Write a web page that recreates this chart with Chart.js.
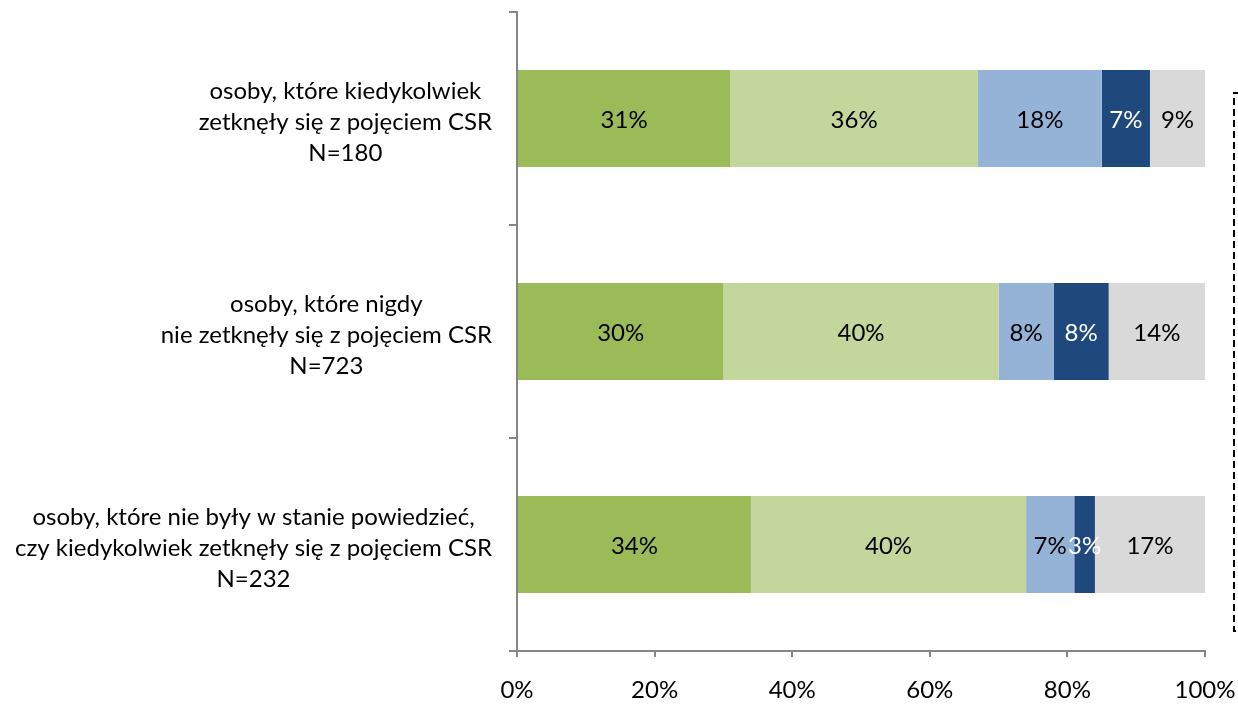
<!DOCTYPE html>
<html lang="pl">
<head>
<meta charset="utf-8">
<script src="https://cdn.jsdelivr.net/npm/chart.js@4/dist/chart.umd.min.js"></script>
<style>
  html, body { margin: 0; padding: 0; background: #fff; }
  #wrap { width: 1238px; height: 704px; position: relative; }
</style>
</head>
<body>
<div id="wrap"><canvas id="csrChart"></canvas></div>
<script>
// kategorie (etykiety osi Y, wiele linii)
const categories = [
    ['osoby, które kiedykolwiek', 'zetknęły się z pojęciem CSR', 'N=180'],
    ['osoby, które nigdy', 'nie zetknęły się z pojęciem CSR', 'N=723'],
    ['osoby, które nie były w stanie powiedzieć,', 'czy kiedykolwiek zetknęły się z pojęciem CSR', 'N=232']
];

// wartości serii (%)
const series1 = [31, 30, 34];
const series2 = [36, 40, 40];
const series3 = [18, 8, 7];
const series4 = [7, 8, 3];
const series5 = [9, 14, 17];

// podziałka osi X
const xTicks = [0, 20, 40, 60, 80, 100];

const colors = ['#9BBB59', '#C3D69B', '#95B3D7', '#1F497D', '#D9D9D9'];
const labelColors = ['#000', '#000', '#000', '#fff', '#000'];
const FONT = 'Lato, "Open Sans", sans-serif';
const FONT_SIZE = 24;
const AXIS = '#868686';

// etykiety kategorii: blok wyrównany do prawej, linie wyśrodkowane w bloku
const categoryLabels = {
    id: 'categoryLabels',
    afterDraw(chart) {
        const ctx = chart.ctx;
        const y = chart.scales.y;
        ctx.save();
        ctx.font = FONT_SIZE + 'px ' + FONT;
        ctx.fillStyle = '#000';
        ctx.textAlign = 'center';
        ctx.textBaseline = 'middle';
        const right = 492;
        const lh = 31;
        categories.forEach((lines, i) => {
            const cy = y.getPixelForValue(i) + 4;
            const w = Math.max(...lines.map(l => ctx.measureText(l).width));
            const cx = right - w / 2;
            lines.forEach((l, j) => {
                ctx.fillText(l, cx, cy + (j - (lines.length - 1) / 2) * lh);
            });
        });
        ctx.restore();
    }
};

// wartości procentowe na segmentach
const segmentLabels = {
    id: 'segmentLabels',
    afterDatasetsDraw(chart) {
        const ctx = chart.ctx;
        const area = chart.chartArea;
        ctx.save();
        ctx.font = FONT_SIZE + 'px ' + FONT;
        ctx.textAlign = 'center';
        ctx.textBaseline = 'middle';
        chart.data.datasets.forEach((ds, di) => {
            const meta = chart.getDatasetMeta(di);
            meta.data.forEach((bar, i) => {
                const left = Math.min(bar.base, bar.x);
                const right = Math.min(Math.max(bar.base, bar.x), area.right);
                ctx.fillStyle = labelColors[di];
                ctx.fillText(ds.data[i] + '%', (left + right) / 2, bar.y + 2);
            });
        });
        ctx.restore();
    }
};

// ramka legendy (przerywana) przy prawej krawędzi
const legendFrame = {
    id: 'legendFrame',
    afterDraw(chart) {
        const ctx = chart.ctx;
        ctx.save();
        ctx.strokeStyle = '#000';
        ctx.lineWidth = 2;
        ctx.setLineDash([7, 4]);
        ctx.strokeRect(1234, 93, 40, 538);
        ctx.restore();
    }
};

const allSeries = [series1, series2, series3, series4, series5];

const ctx = document.getElementById('csrChart').getContext('2d');
const chart = new Chart(ctx, {
    type: 'bar',
    data: {
        labels: categories,
        datasets: allSeries.map((d, i) => ({
            label: 'seria ' + (i + 1),
            data: d,
            backgroundColor: colors[i],
            borderWidth: 0,
            barPercentage: 0.456,
            categoryPercentage: 1.0
        }))
    },
    options: {
        indexAxis: 'y',
        responsive: true,
        maintainAspectRatio: false,
        animation: false,
        layout: { padding: { top: 12, right: 33, left: 0, bottom: 0 } },
        plugins: {
            legend: { display: false },
            tooltip: { enabled: false }
        },
        scales: {
            x: {
                stacked: true,
                min: 0,
                max: 100,
                afterBuildTicks: s => { s.ticks = xTicks.map(v => ({ value: v })); },
                afterFit: s => { s.height = 53; s.paddingLeft = 0; s.paddingRight = 0; },
                grid: { drawOnChartArea: false, drawTicks: true, tickLength: 6, color: AXIS, lineWidth: 2 },
                border: { color: AXIS, width: 2 },
                ticks: {
                    color: '#000',
                    padding: 19,
                    maxRotation: 0,
                    font: { family: FONT, size: FONT_SIZE },
                    callback: v => v + '%'
                }
            },
            y: {
                stacked: true,
                afterFit: s => { s.width = 517; s.paddingTop = 0; s.paddingBottom = 0; },
                grid: { drawOnChartArea: false, drawTicks: true, tickLength: 8, color: AXIS, lineWidth: 2, offset: true },
                border: { color: AXIS, width: 2 },
                ticks: { display: false }
            }
        }
    },
    plugins: [segmentLabels, categoryLabels, legendFrame]
});
</script>
</body>
</html>
